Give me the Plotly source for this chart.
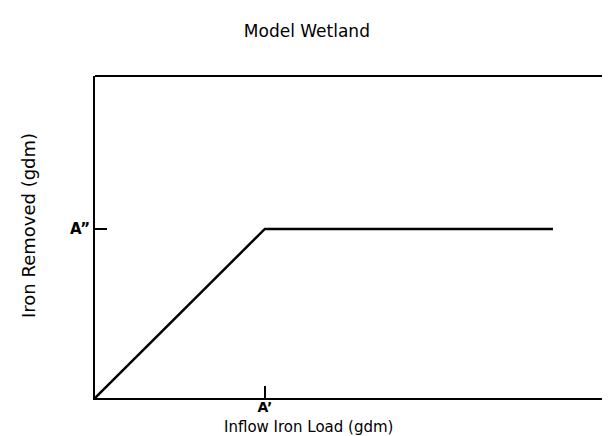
import plotly.graph_objects as go

# breakpoints of the model wetland removal curve (axes normalised 0-1)
inflow_load = [0, 0.326, 0.879]
iron_removed = [0, 0.525, 0.525]

x_tick_vals = [0.326]
x_tick_text = ["A’"]
y_tick_vals = [0.525]
y_tick_text = ["A”"]

font_family = "DejaVu Sans"

fig = go.Figure()
fig.add_trace(go.Scatter(
    x=inflow_load, y=iron_removed, mode="lines",
    line=dict(color="black", width=2.5), showlegend=False, hoverinfo="skip",
))

fig.update_layout(
    width=610, height=436,
    margin=dict(l=87, r=2, t=68, b=46),
    paper_bgcolor="white", plot_bgcolor="white",
    font=dict(family=font_family, color="black"),
    title=dict(text="Model Wetland", x=0.49, xanchor="center", y=0.947, yanchor="middle",
               font=dict(size=17, family=font_family)),
    annotations=[
        dict(text="Inflow Iron Load (gdm)", xref="paper", yref="paper", x=(300 - 87) / 521,
             y=0, yshift=-29, xanchor="center", yanchor="middle", showarrow=False,
             font=dict(size=15, family=font_family)),
        dict(text="Iron Removed (gdm)", xref="paper", yref="paper", x=0, xshift=-67,
             y=(390 - 218) / 322, xanchor="center", yanchor="middle", textangle=-90,
             showarrow=False, font=dict(size=18, family=font_family)),
    ],
    shapes=[
        # top and right edges of the frame (right edge is faint in the original)
        dict(type="line", xref="paper", yref="paper", x0=0, x1=1, y0=1, y1=1,
             line=dict(color="black", width=2)),
        dict(type="line", xref="paper", yref="paper", x0=1, x1=1, y0=0, y1=1,
             line=dict(color="black", width=1)),
    ],
)

fig.update_xaxes(
    range=[0, 1], showgrid=False, zeroline=False,
    showline=True, linecolor="black", linewidth=2,
    ticks="inside", ticklen=12, tickwidth=2, tickcolor="black",
    tickvals=x_tick_vals, ticktext=x_tick_text, ticklabelstandoff=-5,
    tickfont=dict(size=14, family=font_family, weight="bold"),
)
fig.update_yaxes(
    range=[0, 1], showgrid=False, zeroline=False,
    showline=True, linecolor="black", linewidth=2,
    ticks="inside", ticklen=12, tickwidth=2, tickcolor="black",
    tickvals=y_tick_vals, ticktext=y_tick_text,
    tickfont=dict(size=15, family=font_family, weight="bold"),
)

fig.write_html("out.html")
